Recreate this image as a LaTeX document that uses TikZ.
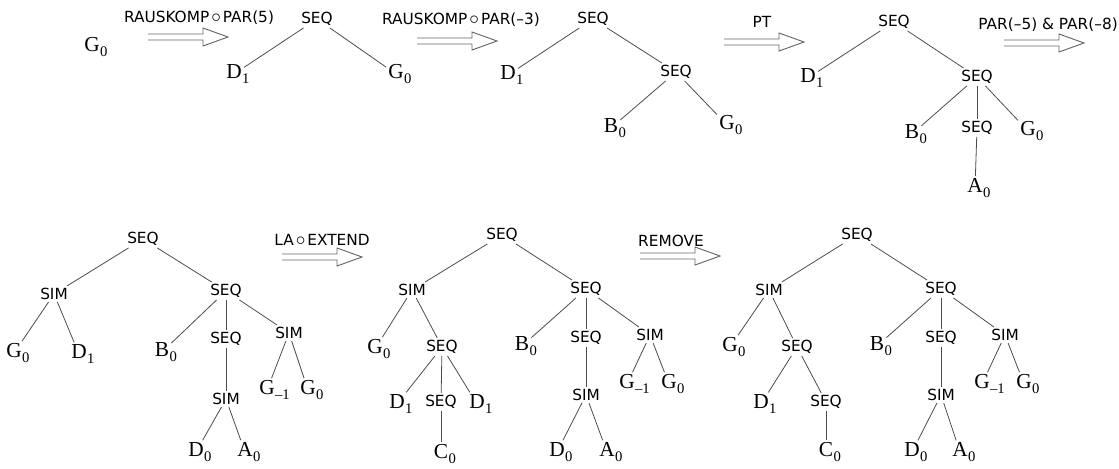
\documentclass[tikz,border=0pt]{standalone}
\usepackage{fontspec}
\setmainfont{Liberation Serif}
\setsansfont{DejaVu Sans}

\newcommand{\leafsym}[2]{#1\rlap{\kern0.3pt\raisebox{-3.6pt}{\fontsize{11}{11}\selectfont #2}}}
\newcommand{\opcirc}{\kern1.5pt{\fontsize{15}{15}\selectfont$\circ$}\kern1.5pt}

\begin{document}
\begin{tikzpicture}[
    x=0.75pt, y=-0.75pt,
    opnode/.style={font=\sffamily\fontsize{11.5}{12}\selectfont, inner sep=1.5pt},
    leafnode/.style={font=\fontsize{16}{18}\selectfont, inner sep=1.5pt},
    oplabel/.style={font=\sffamily\fontsize{11.5}{12}\selectfont, inner sep=0pt},
    branch/.style={draw=black!70, line width=0.6pt},
    trans/.pic={
        \draw[black!60, line width=0.7pt]
            (-40,-3) -- (15,-3) -- (15,-9) -- (40,0) -- (15,9) -- (15,3) -- (-40,3);
    },
]
\useasboundingbox (0,0) rectangle (1119,468);

% === TOP ROW ===
\node[leafnode] (aG) at (92,47) {\leafsym{G}{0}};

% step 1
\node[oplabel] (lab1) at (199,18) {RAUSKOMP\opcirc PAR(5)};
\coordinate (arr1) at (188,37);
\pic at (arr1) {trans};

\node[opnode] (bSeq) at (317,19) {SEQ};
\node[leafnode] (bD) at (234,74) {\leafsym{D}{1}};
\node[leafnode] (bG) at (396,74) {\leafsym{G}{0}};
\draw[branch] (bSeq) -- (bD);
\draw[branch] (bSeq) -- (bG);

% step 2
\node[oplabel] (lab2) at (461,20) {RAUSKOMP\opcirc PAR(--3)};
\coordinate (arr2) at (457,41);
\pic at (arr2) {trans};

\node[opnode] (cSeq) at (593,19) {SEQ};
\node[leafnode] (cD) at (508,75) {\leafsym{D}{1}};
\node[opnode] (cSeq2) at (676,72) {SEQ};
\node[leafnode] (cB) at (611,128) {\leafsym{B}{0}};
\node[leafnode] (cG) at (727,125) {\leafsym{G}{0}};
\draw[branch] (cSeq) -- (cD);
\draw[branch] (cSeq) -- (cSeq2);
\draw[branch] (cSeq2) -- (cB);
\draw[branch] (cSeq2) -- (cG);

% step 3
\node[oplabel] (lab3) at (762,22) {PT};
\coordinate (arr3) at (764,42);
\pic at (arr3) {trans};

\node[opnode] (dSeq) at (894,22) {SEQ};
\node[leafnode] (dD) at (808,78) {\leafsym{D}{1}};
\node[opnode] (dSeq2) at (977,77) {SEQ};
\node[leafnode] (dB) at (912,134) {\leafsym{B}{0}};
\node[opnode] (dSeq3) at (977,128) {SEQ};
\node[leafnode] (dG) at (1028,131) {\leafsym{G}{0}};
\node[leafnode] (dA) at (975,188) {\leafsym{A}{0}};
\draw[branch] (dSeq) -- (dD);
\draw[branch] (dSeq) -- (dSeq2);
\draw[branch] (dSeq2) -- (dB);
\draw[branch] (dSeq2) -- (dSeq3);
\draw[branch] (dSeq2) -- (dG);
\draw[branch] (dSeq3) -- (dA);

% step 4
\node[oplabel, anchor=east] (lab4) at (1118,25) {PAR(--5) \& PAR(--8)};
\coordinate (arr4) at (1044,43);
\pic at (arr4) {trans};

% === BOTTOM ROW ===
\node[opnode] (eSeq) at (143,239) {SEQ};
\node[opnode] (eSim) at (54,294) {SIM};
\node[opnode] (eSeq2) at (226,291) {SEQ};
\node[leafnode] (eG) at (14,353) {\leafsym{G}{0}};
\node[leafnode] (eD) at (79,354) {\leafsym{D}{1}};
\node[leafnode] (eB) at (162,352) {\leafsym{B}{0}};
\node[opnode] (eSeq3) at (226,339) {SEQ};
\node[opnode] (eSim2) at (289,333) {SIM};
\node[leafnode] (eGm) at (267,390) {\leafsym{G}{--1}};
\node[leafnode] (eG2) at (308,390) {\leafsym{G}{0}};
\node[opnode] (eSim3) at (226,399) {SIM};
\node[leafnode] (eD0) at (196,452) {\leafsym{D}{0}};
\node[leafnode] (eA) at (245,452) {\leafsym{A}{0}};
\draw[branch] (eSeq) -- (eSim);
\draw[branch] (eSeq) -- (eSeq2);
\draw[branch] (eSim) -- (eG);
\draw[branch] (eSim) -- (eD);
\draw[branch] (eSeq2) -- (eB);
\draw[branch] (eSeq2) -- (eSeq3);
\draw[branch] (eSeq2) -- (eSim2);
\draw[branch] (eSim2) -- (eGm);
\draw[branch] (eSim2) -- (eG2);
\draw[branch] (eSeq3) -- (eSim3);
\draw[branch] (eSim3) -- (eD0);
\draw[branch] (eSim3) -- (eA);

% step 5
\node[oplabel] (lab5) at (322,240) {LA\opcirc EXTEND};
\coordinate (arr5) at (322,257);
\pic at (arr5) {trans};

\node[opnode] (fSeq) at (502,235) {SEQ};
\node[opnode] (fSim) at (412,290) {SIM};
\node[opnode] (fSeq2) at (586,289) {SEQ};
\node[leafnode] (fG) at (375,349) {\leafsym{G}{0}};
\node[opnode] (fSeqL) at (442,347) {SEQ};
\node[leafnode] (fD) at (397,404) {\leafsym{D}{1}};
\node[opnode] (fSeqS) at (441,402) {SEQ};
\node[leafnode] (fD2) at (477,404) {\leafsym{D}{1}};
\node[leafnode] (fC) at (441,454) {\leafsym{C}{0}};
\node[leafnode] (fB) at (522,346) {\leafsym{B}{0}};
\node[opnode] (fSeq3) at (586,338) {SEQ};
\node[opnode] (fSim2) at (650,335) {SIM};
\node[leafnode] (fGm) at (627,384) {\leafsym{G}{--1}};
\node[leafnode] (fG2) at (669,384) {\leafsym{G}{0}};
\node[opnode] (fSim3) at (586,395) {SIM};
\node[leafnode] (fD0) at (557,452) {\leafsym{D}{0}};
\node[leafnode] (fA) at (607,452) {\leafsym{A}{0}};
\draw[branch] (fSeq) -- (fSim);
\draw[branch] (fSeq) -- (fSeq2);
\draw[branch] (fSim) -- (fG);
\draw[branch] (fSim) -- (fSeqL);
\draw[branch] (fSeqL) -- (fD);
\draw[branch] (fSeqL) -- (fSeqS);
\draw[branch] (fSeqL) -- (fD2);
\draw[branch] (fSeqS) -- (fC);
\draw[branch] (fSeq2) -- (fB);
\draw[branch] (fSeq2) -- (fSeq3);
\draw[branch] (fSeq2) -- (fSim2);
\draw[branch] (fSim2) -- (fGm);
\draw[branch] (fSim2) -- (fG2);
\draw[branch] (fSeq3) -- (fSim3);
\draw[branch] (fSim3) -- (fD0);
\draw[branch] (fSim3) -- (fA);

% step 6
\node[oplabel] (lab6) at (671,241) {REMOVE};
\coordinate (arr6) at (680,256);
\pic at (arr6) {trans};

\node[opnode] (gSeq) at (857,235) {SEQ};
\node[opnode] (gSim) at (769,290) {SIM};
\node[opnode] (gSeq2) at (941,289) {SEQ};
\node[leafnode] (gG) at (730,347) {\leafsym{G}{0}};
\node[opnode] (gSeqL) at (797,347) {SEQ};
\node[leafnode] (gD) at (761,404) {\leafsym{D}{1}};
\node[opnode] (gSeqS) at (826,402) {SEQ};
\node[leafnode] (gC) at (826,452) {\leafsym{C}{0}};
\node[leafnode] (gB) at (877,346) {\leafsym{B}{0}};
\node[opnode] (gSeq3) at (941,338) {SEQ};
\node[opnode] (gSim2) at (1005,335) {SIM};
\node[leafnode] (gGm) at (982,384) {\leafsym{G}{--1}};
\node[leafnode] (gG2) at (1024,384) {\leafsym{G}{0}};
\node[opnode] (gSim3) at (941,395) {SIM};
\node[leafnode] (gD0) at (912,452) {\leafsym{D}{0}};
\node[leafnode] (gA) at (960,452) {\leafsym{A}{0}};
\draw[branch] (gSeq) -- (gSim);
\draw[branch] (gSeq) -- (gSeq2);
\draw[branch] (gSim) -- (gG);
\draw[branch] (gSim) -- (gSeqL);
\draw[branch] (gSeqL) -- (gD);
\draw[branch] (gSeqL) -- (gSeqS);
\draw[branch] (gSeqS) -- (gC);
\draw[branch] (gSeq2) -- (gB);
\draw[branch] (gSeq2) -- (gSeq3);
\draw[branch] (gSeq2) -- (gSim2);
\draw[branch] (gSim2) -- (gGm);
\draw[branch] (gSim2) -- (gG2);
\draw[branch] (gSeq3) -- (gSim3);
\draw[branch] (gSim3) -- (gD0);
\draw[branch] (gSim3) -- (gA);

\end{tikzpicture}
\end{document}
